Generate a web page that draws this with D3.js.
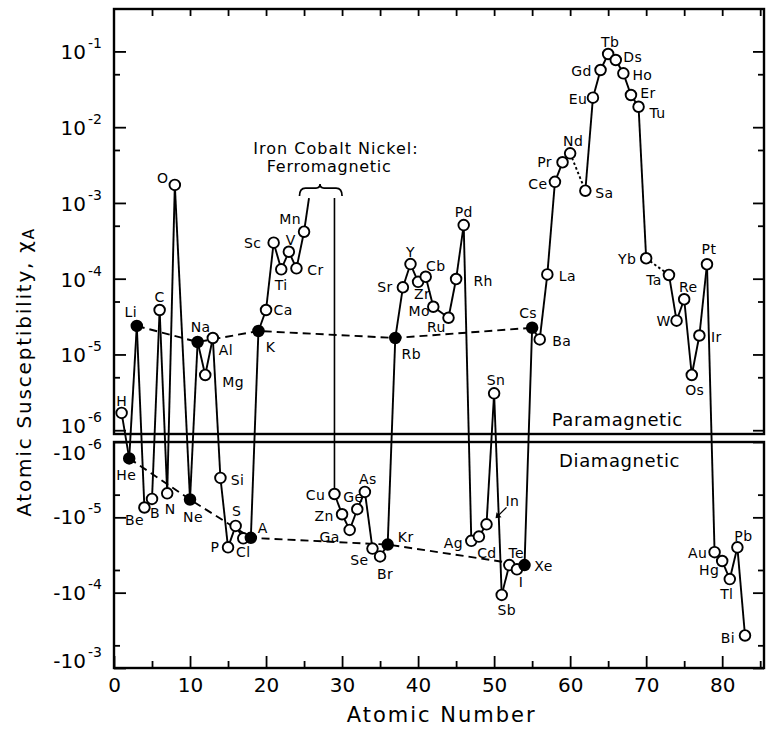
<!DOCTYPE html>
<html>
<head>
<meta charset="utf-8">
<script src="https://cdn.jsdelivr.net/npm/d3@7"></script>
<style>
body { margin: 0; background: #fff; }
svg { display: block; font-family: "DejaVu Sans", sans-serif; }
</style>
</head>
<body>
<svg id="chart" width="766" height="731"></svg>
<script>
// element symbols as printed on the figure (old symbols: Cb, A, Sa, Ds, Tu)
const symbols = ["H","He","Li","Be","B","C","N","O","Ne","Na","Mg","Al","Si","P","S","Cl","A","K","Ca","Sc",
  "Ti","V","Cr","Mn","Cu","Zn","Ga","Ge","As","Se","Br","Kr","Rb","Sr","Y","Zr","Cb","Mo","Ru","Rh",
  "Pd","Ag","Cd","In","Sn","Sb","Te","I","Xe","Cs","Ba","La","Ce","Pr","Nd","Sa","Eu","Gd","Tb","Ds",
  "Ho","Er","Tu","Yb","Ta","W","Re","Os","Ir","Pt","Au","Hg","Tl","Pb","Bi"];
const atomicNumbers = [1,2,3,4,5,6,7,8,10,11,12,13,14,15,16,17,18,19,20,21,
  22,23,24,25,29,30,31,32,33,34,35,36,37,38,39,40,41,42,44,45,
  46,47,48,49,50,51,52,53,54,55,56,57,58,59,60,62,63,64,65,66,
  67,68,69,70,73,74,75,76,77,78,79,80,81,82,83];
// atomic susceptibility, negative = diamagnetic
const susceptibility = [1.69e-6,-1.65e-6,2.38e-5,-7.4e-6,-5.7e-6,3.86e-5,-4.8e-6,1.73e-3,-5.8e-6,1.46e-5,
  5.36e-6,1.65e-5,-3.0e-6,-2.5e-5,-1.3e-5,-1.9e-5,-1.87e-5,2.04e-5,3.86e-5,2.99e-4,
  1.33e-4,2.27e-4,1.37e-4,4.17e-4,-4.9e-6,-9.1e-6,-1.47e-5,-7.8e-6,-4.6e-6,-2.6e-5,
  -3.3e-5,-2.3e-5,1.65e-5,7.7e-5,1.56e-4,9.1e-5,1.06e-4,4.26e-5,3.05e-5,9.9e-5,
  5.1e-4,-2.05e-5,-1.8e-5,-1.24e-5,3.07e-6,-1.07e-4,-4.3e-5,-4.9e-5,-4.3e-5,2.25e-5,
  1.58e-5,1.14e-4,1.9e-3,3.44e-3,4.52e-3,1.45e-3,2.45e-2,5.69e-2,9.25e-2,7.7e-2,
  5.14e-2,2.66e-2,1.86e-2,1.86e-4,1.12e-4,2.79e-5,5.35e-5,5.36e-6,1.78e-5,1.55e-4,
  -2.9e-5,-3.8e-5,-6.6e-5,-2.5e-5,-3.7e-4];
// alkali metals and noble gases (filled, joined by dashed lines)
const filledSymbols = ["Li","Na","K","Rb","Cs","He","Ne","A","Kr","Xe"];
const dottedLinks = [["Nd","Sa"],["Yb","Ta"]];
// Fe, Co, Ni: ferromagnetic, off scale
const ferroTop = 1.16e-3;
const ferroEnds = [25.65, 29];

const xTicks = d3.range(0, 86, 5);
const upperMajor = [1e-1,1e-2,1e-3,1e-4,1e-5,1e-6];
const upperMinor = [5e-2,5e-3,5e-4,5e-5,5e-6];
const lowerMajor = [1e-6,1e-5,1e-4,1e-3];
const lowerMinor = [5e-6,5e-5,5e-4];

// label placement around each circle
const labelOffset = {H:[0,-12],He:[-3,17],Li:[-6,-14],Be:[-10,12],B:[3,14],C:[0,-13],N:[3,16],O:[-12,-7],
  Ne:[3,17],Na:[3,-15],Mg:[28,7],Al:[13,12],Si:[17,2],P:[-13,0],S:[1,-15],Cl:[0,14],A:[12,-10],
  K:[12,16],Ca:[17,0],Sc:[-21,0],Ti:[0,16],V:[2,-12],Cr:[19,2],Mn:[-14,-13],Cu:[-19,1],Zn:[-18,2],
  Ga:[-20,7],Ge:[-4,-12],As:[3,-13],Se:[-13,11],Br:[5,18],Kr:[18,-8],Rb:[16,16],Sr:[-18,0],Y:[0,-12],
  Zr:[4,12],Cb:[10,-11],Mo:[-14,4],Ru:[-12,9],Rh:[27,2],Pd:[0,-13],Ag:[-18,2],Cd:[8,16],In:[26,-23],
  Sn:[2,-13],Sb:[5,15],Te:[7,-12],I:[4,13],Xe:[19,1],Cs:[-4,-15],Ba:[22,2],La:[20,2],Ce:[-17,2],
  Pr:[-18,0],Nd:[3,-12],Sa:[19,2],Eu:[-15,1],Gd:[-19,1],Tb:[2,-12],Ds:[17,-3],Ho:[19,2],Er:[17,-2],
  Tu:[19,6],Yb:[-19,1],Ta:[-15,5],W:[-13,0],Re:[4,-12],Os:[3,15],Ir:[17,1],Pt:[2,-15],Au:[-17,1],
  Hg:[-13,9],Tl:[-3,15],Pb:[6,-11],Bi:[-17,2]};

const left = 114, right = 764;
const upTop = 9, upBottom = 434, lowTop = 442, lowBottom = 668;

const svg = d3.select("#chart");

const x = d3.scaleLinear().domain([0, 85.5]).range([left, right]);
const yUp = d3.scaleLog().domain([Math.pow(10, -6.05), Math.pow(10, -0.44)]).range([upBottom, upTop]);
const yDown = d3.scaleLog().domain([1e-6, 1e-3]).range([lowTop, lowBottom]);
const yOf = v => v > 0 ? yUp(v) : yDown(-v);

const points = symbols.map((s, i) => ({
  sym: s, z: atomicNumbers[i], chi: susceptibility[i], filled: filledSymbols.includes(s)
}));
const bySym = {};
points.forEach(p => bySym[p.sym] = p);

//frames
svg.append("rect").attr("x", left).attr("y", upTop)
  .attr("width", right - left).attr("height", upBottom - upTop)
  .attr("fill", "none").attr("stroke", "#000").attr("stroke-width", 2.4);
svg.append("rect").attr("x", left).attr("y", lowTop)
  .attr("width", right - left).attr("height", lowBottom - lowTop)
  .attr("fill", "none").attr("stroke", "#000").attr("stroke-width", 2.4);

//axes
let styleAxis = function(g, majorTest, major, minor){
  g.select(".domain").remove();
  g.selectAll(".tick line")
    .attr("stroke", "#000").attr("stroke-width", 1.8)
    .each(function(d){
      const len = majorTest(d) ? major : minor;
      const l = d3.select(this);
      if (l.attr("x2") !== null && +l.attr("x2") !== 0) l.attr("x2", len);
      else l.attr("y2", len);
    });
};

const bottomAxis = svg.append("g")
  .attr("transform", `translate(0,${lowBottom})`)
  .call(d3.axisBottom(x).tickValues(xTicks).tickSize(-12).tickPadding(10)
    .tickFormat(d => d % 10 === 0 ? d : ""));
styleAxis(bottomAxis, d => d % 10 === 0, -12, -7);
bottomAxis.selectAll("text").attr("font-size", 20).attr("font-family", "DejaVu Sans").attr("fill", "#000");

const topAxis = svg.append("g")
  .attr("transform", `translate(0,${upTop})`)
  .call(d3.axisTop(x).tickValues(xTicks.filter(d => d > 0)).tickSize(-7).tickFormat(""));
styleAxis(topAxis, d => true, 7, 7);

const isMajor = d => Math.abs(Math.log10(d) - Math.round(Math.log10(d))) < 1e-6;
[[yUp, upperMajor.concat(upperMinor)], [yDown, lowerMajor.concat(lowerMinor)]].forEach(([sc, vals]) => {
  const gl = svg.append("g").attr("transform", `translate(${left},0)`)
    .call(d3.axisLeft(sc).tickValues(vals).tickSize(-12).tickFormat(""));
  styleAxis(gl, isMajor, 12, 6);
  const gr = svg.append("g").attr("transform", `translate(${right},0)`)
    .call(d3.axisRight(sc).tickValues(vals).tickSize(-11).tickFormat(""));
  styleAxis(gr, isMajor, -11, -6);
});

//y tick labels with superscripts
let powerLabel = function(yPos, base, exp){
  svg.append("text").attr("x", 86).attr("y", yPos)
    .attr("text-anchor", "end").attr("font-size", 20).text(base);
  svg.append("text").attr("x", 88).attr("y", yPos - 11)
    .attr("font-size", 14).text("-" + exp);
};
upperMajor.forEach(v => {
  const e = Math.round(-Math.log10(v));
  powerLabel(e === 6 ? yUp(v) + 3 : yUp(v) + 8, "10", e);
});
lowerMajor.forEach(v => {
  const e = Math.round(-Math.log10(v));
  const off = e === 6 ? 18 : (e === 3 ? 0 : 7);
  powerLabel(yDown(v) + off, "-10", e);
});

//axis titles
svg.append("text")
  .attr("x", x(43.1)).attr("y", 722)
  .attr("text-anchor", "middle").attr("font-size", 21).attr("letter-spacing", 2)
  .text("Atomic Number");
svg.append("text")
  .attr("transform", `translate(31,${(227 + 517) / 2}) rotate(-90)`)
  .attr("text-anchor", "middle").attr("font-size", 20).attr("letter-spacing", 1.8)
  .call(t => {
    t.append("tspan").text("Atomic Susceptibility, \u03c7");
    t.append("tspan").attr("font-size", 15).attr("dy", 3).text("A");
  });

//panel names
svg.append("text").attr("x", x(66.2)).attr("y", upBottom - 8)
  .attr("text-anchor", "middle").attr("font-size", 18).attr("letter-spacing", 0.6)
  .text("Paramagnetic");
svg.append("text").attr("x", x(66.5)).attr("y", lowTop + 25)
  .attr("text-anchor", "middle").attr("font-size", 18).attr("letter-spacing", 0.6)
  .text("Diamagnetic");

//connecting lines
const lines_g = svg.append("g").attr("fill", "none").attr("stroke", "#000");
const isDotted = (a, b) => dottedLinks.some(l => l[0] === a.sym && l[1] === b.sym);
for (let i = 0; i < points.length - 1; i++) {
  const a = points[i], b = points[i + 1];
  if (a.sym === "Mn") {
    // ferromagnetic gap: Mn up to the brace, then down to Cu
    lines_g.append("line")
      .attr("x1", x(a.z)).attr("y1", yOf(a.chi))
      .attr("x2", x(ferroEnds[0])).attr("y2", yUp(ferroTop))
      .attr("stroke-width", 1.9);
    lines_g.append("line")
      .attr("x1", x(ferroEnds[1])).attr("y1", yUp(ferroTop))
      .attr("x2", x(b.z)).attr("y2", yOf(b.chi))
      .attr("stroke-width", 1.6);
    continue;
  }
  lines_g.append("line")
    .attr("x1", x(a.z)).attr("y1", yOf(a.chi))
    .attr("x2", x(b.z)).attr("y2", yOf(b.chi))
    .attr("stroke-width", 1.9)
    .attr("stroke-dasharray", isDotted(a, b) ? "2.5,2.5" : null);
}

//alkali and noble gas dashed lines
const alkali = points.filter(p => p.filled && p.chi > 0);
const noble = points.filter(p => p.filled && p.chi < 0);
[alkali, noble].forEach(group => {
  lines_g.append("path")
    .attr("d", d3.line().x(p => x(p.z)).y(p => yOf(p.chi))(group))
    .attr("stroke-width", 1.9)
    .attr("stroke-dasharray", "8,5");
});

//brace over Fe Co Ni
const fy = yUp(ferroTop);
const bl = x(24.4), br = x(30.0), bm = x(27.1);
svg.append("path")
  .attr("d", `M${bl},${fy - 2} Q${bl},${fy - 10} ${bl + 6},${fy - 10} L${bm - 4},${fy - 10} ` +
    `Q${bm},${fy - 10} ${bm},${fy - 14} Q${bm},${fy - 10} ${bm + 4},${fy - 10} ` +
    `L${br - 6},${fy - 10} Q${br},${fy - 10} ${br},${fy - 2}`)
  .attr("fill", "none").attr("stroke", "#000").attr("stroke-width", 1.7);
svg.append("text").attr("x", x(29.2)).attr("y", 154)
  .attr("text-anchor", "middle").attr("font-size", 16).attr("letter-spacing", 1)
  .text("Iron Cobalt Nickel:");
svg.append("text").attr("x", x(28.3)).attr("y", 172)
  .attr("text-anchor", "middle").attr("font-size", 16).attr("letter-spacing", 0.7)
  .text("Ferromagnetic");

//points
svg.append("g").selectAll("circle")
  .data(points)
  .enter().append("circle")
  .attr("cx", d => x(d.z))
  .attr("cy", d => yOf(d.chi))
  .attr("r", 5.3)
  .attr("fill", d => d.filled ? "#000" : "#fff")
  .attr("stroke", "#000")
  .attr("stroke-width", 1.9);

//labels
svg.append("g").selectAll("text")
  .data(points)
  .enter().append("text")
  .attr("x", d => x(d.z) + labelOffset[d.sym][0])
  .attr("y", d => yOf(d.chi) + labelOffset[d.sym][1])
  .attr("dy", "0.36em")
  .attr("text-anchor", "middle")
  .attr("font-size", 14)
  .attr("letter-spacing", 0.4)
  .text(d => d.sym);

//In arrow
const inP = bySym["In"];
const ax = x(inP.z), ay = yOf(inP.chi);
svg.append("line")
  .attr("x1", ax + 20).attr("y1", ay - 17)
  .attr("x2", ax + 12).attr("y2", ay - 9)
  .attr("stroke", "#000").attr("stroke-width", 1.3);
svg.append("path")
  .attr("d", `M${ax + 9},${ay - 6} L${ax + 10},${ay - 12} L${ax + 15},${ay - 7} Z`)
  .attr("fill", "#000");
</script>
</body>
</html>
